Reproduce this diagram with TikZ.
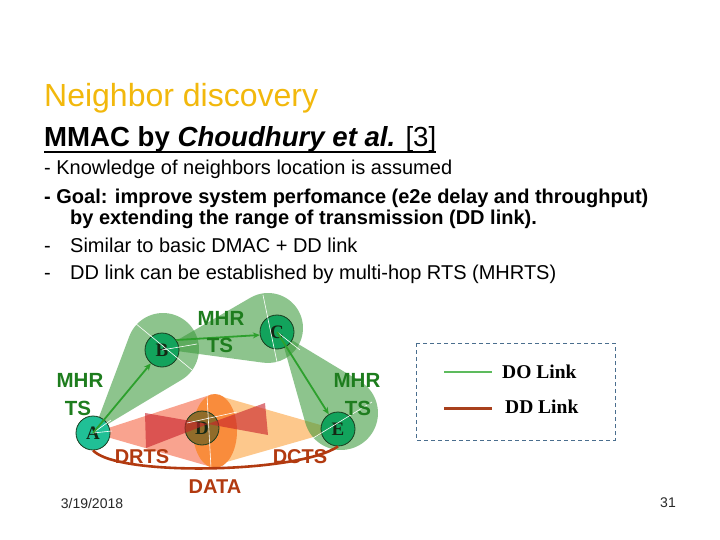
\documentclass[tikz,border=0pt]{standalone}
\usepackage{fontspec}
\setmainfont{Liberation Sans}
\newfontfamily\serifb{Liberation Serif}
\usetikzlibrary{calc,arrows.meta}

\definecolor{titlecol}{RGB}{242,184,12}
\definecolor{beamgreen}{RGB}{60,154,60}
\definecolor{arrowgreen}{RGB}{45,160,45}
\definecolor{labelgreen}{RGB}{30,125,30}
\definecolor{ddred}{RGB}{178,58,16}
\definecolor{salmonc}{RGB}{249,163,143}
\definecolor{peachc}{RGB}{253,200,140}
\definecolor{orangeell}{RGB}{249,140,60}
\definecolor{bowred}{RGB}{200,30,40}
\definecolor{nodegreen}{RGB}{18,163,92}
\definecolor{nodeteal}{RGB}{32,192,150}
\definecolor{nodeolive}{RGB}{145,108,42}
\definecolor{nodeedge}{RGB}{25,60,30}
\definecolor{nodetext}{RGB}{20,40,20}
\definecolor{legendblue}{RGB}{74,110,142}
\definecolor{legendgreen}{RGB}{93,187,93}
\definecolor{legendred}{RGB}{168,64,28}
\definecolor{footgray}{RGB}{40,40,40}

\begin{document}
\begin{tikzpicture}[x=1pt,y=1pt,yscale=-1,
  txt/.style={inner sep=0pt, anchor=base west, font=\fontsize{20}{24}\selectfont},
  btxt/.style={inner sep=0pt, anchor=base west, font=\fontsize{20}{24}\selectfont\bfseries},
  station/.style={circle, minimum size=34pt, inner sep=0pt, draw=nodeedge, line width=0.8pt,
    fill=nodegreen, font=\serifb\bfseries\fontsize{19}{19}\selectfont, text=nodetext},
  beam/.style={fill=beamgreen, fill opacity=0.58},
  hop/.style={draw=arrowgreen, line width=1.8pt, -{Stealth[length=7pt,width=6pt]}},
  mhr/.style={font=\fontsize{20.5}{20}\selectfont\bfseries, text=labelgreen, inner sep=0pt},
  ddlab/.style={font=\fontsize{20}{20}\selectfont\bfseries, text=ddred, inner sep=0pt},
  wline/.style={draw=white, line width=0.6pt},
  legtxt/.style={font=\serifb\bfseries\fontsize{19.5}{19}\selectfont, inner sep=0pt, anchor=west},
]
\fill[white] (0,0) rectangle (720,540);
\useasboundingbox (0,0) rectangle (720,540);

% ---------------- text ----------------
\node[inner sep=0pt, anchor=base west, font=\fontsize{32}{36}\selectfont, text=titlecol] (title) at (44,107) {Neighbor discovery};
\node[inner sep=0pt, anchor=base west, font=\fontsize{27.6}{32}\selectfont\bfseries] (mmac) at (44,147)
  {MMAC by {\itshape Choudhury et al.} {\mdseries [3]}};
\draw[line width=1.8pt] ($(mmac.base west)+(0,5)$) -- ($(mmac.base east)+(0,5)$);
\node[txt] (l1) at (44,175) {- Knowledge of neighbors location is assumed};
\node[btxt] (l2) at (44,204) {- Goal: improve system perfomance (e2e delay and throughput)};
\node[btxt] (l3) at (70,225) {by extending the range of transmission (DD link).};
\node[txt] (d4) at (44,252) {-};
\node[txt] (l4) at (70,252) {Similar to basic DMAC + DD link};
\node[txt] (d5) at (44,279) {-};
\node[txt] (l5) at (70,279) {DD link can be established by multi-hop RTS (MHRTS)};

% ---------------- positions ----------------
\coordinate (pA) at (93,433);
\coordinate (pB) at (162,350);
\coordinate (pC) at (277,332);
\coordinate (pD) at (202,428);
\coordinate (pE) at (338,429);

% ---------------- beams ----------------
\fill[peachc] (338,430) -- ++(164:130) arc[start angle=164, end angle=196, radius=130pt] -- cycle;
\fill[salmonc] (pA) -- ++(-18:125) arc[start angle=-18, end angle=16, radius=125pt] -- cycle;
\fill[orangeell] (215,431) ellipse [x radius=22pt, y radius=37pt];

\fill[beam] (93,433) -- ($(163,349)+(200.6:36)$) arc[start angle=200.6, end angle=419, radius=36pt] -- cycle;
\fill[beam] (162,349) -- ($(268,328)+(239.9:35)$) arc[start angle=239.9, end angle=457.7, radius=35pt] -- cycle;
\fill[beam] (280,333) -- ($(341,413)+(301.1:37)$) arc[start angle=301.1, end angle=524.3, radius=37pt] -- cycle;

% ---------------- node D and bow-tie ----------------
\node[station, fill=nodeolive] (D) at (pD) {D};
\fill[bowred, fill opacity=0.6] (145,413) -- (208,424) -- (146,448) -- cycle;
\fill[bowred, fill opacity=0.6] (265,403) -- (208,424) -- (268,435) -- cycle;

% ---------------- stations ----------------
\node[station, fill=nodeteal] (A) at (pA) {A};
\node[station] (B) at (pB) {B};
\node[station] (C) at (pC) {C};
\node[station] (E) at (pE) {E};

% ---------------- white beam borders ----------------
\draw[wline] (135,323) -- (192,370);
\draw[wline] (B.center) -- (197,344);
\draw[wline] (263,295) -- (277,362);
\draw[wline] (C.center) -- (300,350);
\draw[wline] (305,443) -- (372,402);
\draw[wline] (207,395) -- (211,468);
\draw[wline] (187,423) -- (237,412);
\draw[wline] (A.center) -- (111,420);
\draw[wline] (A.center) -- (112,431);

% ---------------- hops ----------------
\draw[hop] (A.center) -- (B);
\draw[hop] (B.35) -- (C.190);
\draw[hop] (C.center) -- (E);

% ---------------- DD link ----------------
\draw[ddred, line width=2.6pt] (A.south) .. controls (118,477) and (300,473) .. (E.south);

% ---------------- labels ----------------
\node[mhr] (m1) at (80,380) {MHR};
\node[mhr] (t1) at (78,408) {TS};
\node[mhr] (m2) at (221,318) {MHR};
\node[mhr] (t2) at (220,345) {TS};
\node[mhr] (m3) at (357,380) {MHR};
\node[mhr] (t3) at (358,408) {TS};
\node[ddlab] (drts) at (142,457) {DRTS};
\node[ddlab] (dcts) at (300,457) {DCTS};
\node[ddlab] (data) at (215,487) {DATA};

% ---------------- legend ----------------
\draw[legendblue, line width=0.8pt, dash pattern=on 4pt off 3pt] (416,343) rectangle (615,440);
\coordinate (g1) at (444,372);
\coordinate (g2) at (492,372);
\coordinate (r1) at (444,408);
\coordinate (r2) at (492,408);
\draw[legendgreen, line width=1.6pt] (g1) -- (g2);
\draw[legendred, line width=3pt] (r1) -- (r2);
\node[legtxt] (dol) at (502,372) {DO Link};
\node[legtxt] (ddl) at (505,407) {DD Link};

% ---------------- footer ----------------
\node[inner sep=0pt, font=\fontsize{14}{14}\selectfont, text=footgray] (date) at (92,503) {3/19/2018};
\node[inner sep=0pt, font=\fontsize{14}{14}\selectfont, text=footgray] (page) at (668,503) {31};
\end{tikzpicture}
\end{document}
